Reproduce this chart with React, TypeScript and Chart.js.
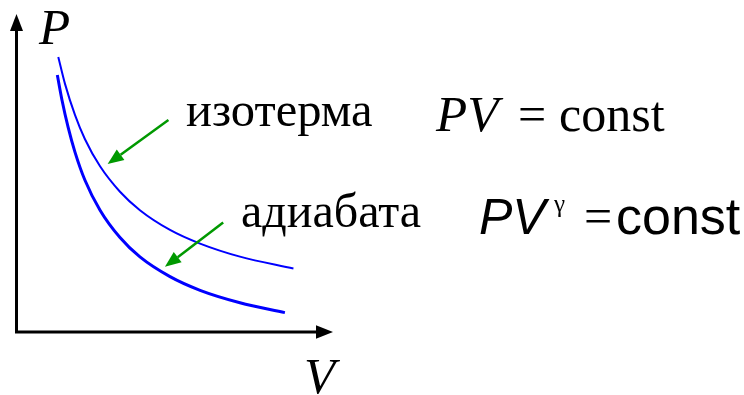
import React, { useEffect, useRef } from "react";
import { Chart, registerables } from "chart.js";

Chart.register(...registerables);

// Isotherm PV = const, read as (V, P) pairs in axis units (0..10 on each axis)
const isothermV = [1.32, 1.53, 1.85, 2.16, 2.64, 3.27, 3.9, 4.85, 5.8, 7.06, 8.75];
const isothermP = [8.65, 7.81, 6.82, 6.07, 5.21, 4.41, 3.83, 3.21, 2.78, 2.37, 2.0];

// Adiabat PV^γ = const
const adiabatV = [1.29, 1.44, 1.63, 1.85, 2.16, 2.64, 3.27, 3.9, 4.85, 5.8, 7.06, 8.48];
const adiabatP = [8.08, 7.28, 6.44, 5.65, 4.78, 3.83, 2.97, 2.36, 1.74, 1.31, 0.92, 0.61];

// Pointer arrows: [tailV, tailP, tipV, tipP]
const isothermArrow = [4.8, 6.67, 2.88, 5.28];
const adiabatArrow = [6.53, 3.44, 4.69, 2.05];

const SERIF = '"Liberation Serif", "Times New Roman", serif';
const SANS = '"Liberation Sans", Arial, sans-serif';

const toPoints = (vs: number[], ps: number[]) => vs.map((v, i) => ({ x: v, y: ps[i] }));

function drawArrowHead(ctx: CanvasRenderingContext2D, tx: number, ty: number, fx: number, fy: number, len: number, half: number) {
  const ang = Math.atan2(ty - fy, tx - fx);
  const bx = tx - len * Math.cos(ang);
  const by = ty - len * Math.sin(ang);
  const nx = -Math.sin(ang) * half;
  const ny = Math.cos(ang) * half;
  ctx.beginPath();
  ctx.moveTo(tx, ty);
  ctx.lineTo(bx + nx, by + ny);
  ctx.lineTo(bx - nx, by - ny);
  ctx.closePath();
  ctx.fill();
  return { bx, by };
}

const overlay = {
  id: "pvOverlay",
  afterDatasetsDraw(chart: any) {
    const { ctx, scales } = chart;
    const xs = scales.x;
    const ys = scales.y;
    const px = (v: number) => xs.getPixelForValue(v);
    const py = (p: number) => ys.getPixelForValue(p);
    ctx.save();

    // Axes with arrowheads
    const ox = px(0);
    const oy = py(0);
    const xEnd = px(10);
    const yEnd = py(10);
    ctx.strokeStyle = "#000";
    ctx.fillStyle = "#000";
    ctx.lineWidth = 3;
    ctx.lineCap = "butt";
    ctx.beginPath();
    ctx.moveTo(ox, oy + 1.5);
    ctx.lineTo(ox, yEnd + 14);
    ctx.moveTo(ox - 1.5, oy);
    ctx.lineTo(xEnd - 15, oy);
    ctx.stroke();
    drawArrowHead(ctx, ox, yEnd, ox, oy, 17, 6.5);
    drawArrowHead(ctx, xEnd, oy, ox, oy, 17, 6.8);

    // Green pointer arrows
    ctx.strokeStyle = "#009900";
    ctx.fillStyle = "#009900";
    ctx.lineWidth = 2.5;
    for (const a of [isothermArrow, adiabatArrow]) {
      const fx = px(a[0]);
      const fy = py(a[1]);
      const tx = px(a[2]);
      const ty = py(a[3]);
      const { bx, by } = drawArrowHead(ctx, tx, ty, fx, fy, 16, 6.5);
      ctx.beginPath();
      ctx.moveTo(fx, fy);
      ctx.lineTo(bx, by);
      ctx.stroke();
    }

    // Labels
    ctx.fillStyle = "#000";
    ctx.textBaseline = "alphabetic";
    ctx.textAlign = "left";
    ctx.font = `italic 51px ${SERIF}`;
    ctx.fillText("P", 39, 44);
    ctx.fillText("V", 304, 393);

    ctx.font = `48.5px ${SERIF}`;
    ctx.fillText("изотерма", 186, 126);
    ctx.font = `48px ${SERIF}`;
    ctx.fillText("адиабата", 241, 227);

    // PV = const
    ctx.font = `italic 51px ${SERIF}`;
    ctx.fillText("PV", 436, 131);
    ctx.font = `50px ${SERIF}`;
    ctx.fillText("=", 518, 131);
    ctx.fillText("const", 559, 131);

    // PV^γ = const
    ctx.font = `italic 50px ${SANS}`;
    ctx.fillText("PV", 479, 234);
    ctx.font = `25px ${SERIF}`;
    ctx.fillText("γ", 554, 212);
    ctx.font = `50px ${SERIF}`;
    ctx.fillText("=", 584, 233);
    ctx.font = `52px ${SANS}`;
    ctx.fillText("const", 616, 234);

    ctx.restore();
  },
};

export default function App() {
  const canvasRef = useRef<HTMLCanvasElement | null>(null);

  useEffect(() => {
    if (!canvasRef.current) return;
    const chart = new Chart(canvasRef.current, {
      type: "scatter",
      data: {
        datasets: [
          {
            label: "изотерма",
            data: toPoints(isothermV, isothermP),
            showLine: true,
            borderColor: "#0000ff",
            borderWidth: 2,
            pointRadius: 0,
            cubicInterpolationMode: "monotone",
          },
          {
            label: "адиабата",
            data: toPoints(adiabatV, adiabatP),
            showLine: true,
            borderColor: "#0000ff",
            borderWidth: 3,
            pointRadius: 0,
            cubicInterpolationMode: "monotone",
          },
        ],
      },
      options: {
        animation: false,
        responsive: false,
        devicePixelRatio: 1,
        events: [],
        layout: { padding: { left: 16.5, right: 411, top: 14, bottom: 63 } },
        scales: {
          x: { type: "linear", min: 0, max: 10, display: false },
          y: { type: "linear", min: 0, max: 10, display: false },
        },
        plugins: { legend: { display: false }, tooltip: { enabled: false } },
      },
      plugins: [overlay],
    });
    return () => chart.destroy();
  }, []);

  return (
    <div style={{ position: "absolute", left: 0, top: 0, width: 744, height: 395, background: "#fff", overflow: "hidden" }}>
      <canvas ref={canvasRef} width={744} height={395} style={{ display: "block" }} />
    </div>
  );
}
